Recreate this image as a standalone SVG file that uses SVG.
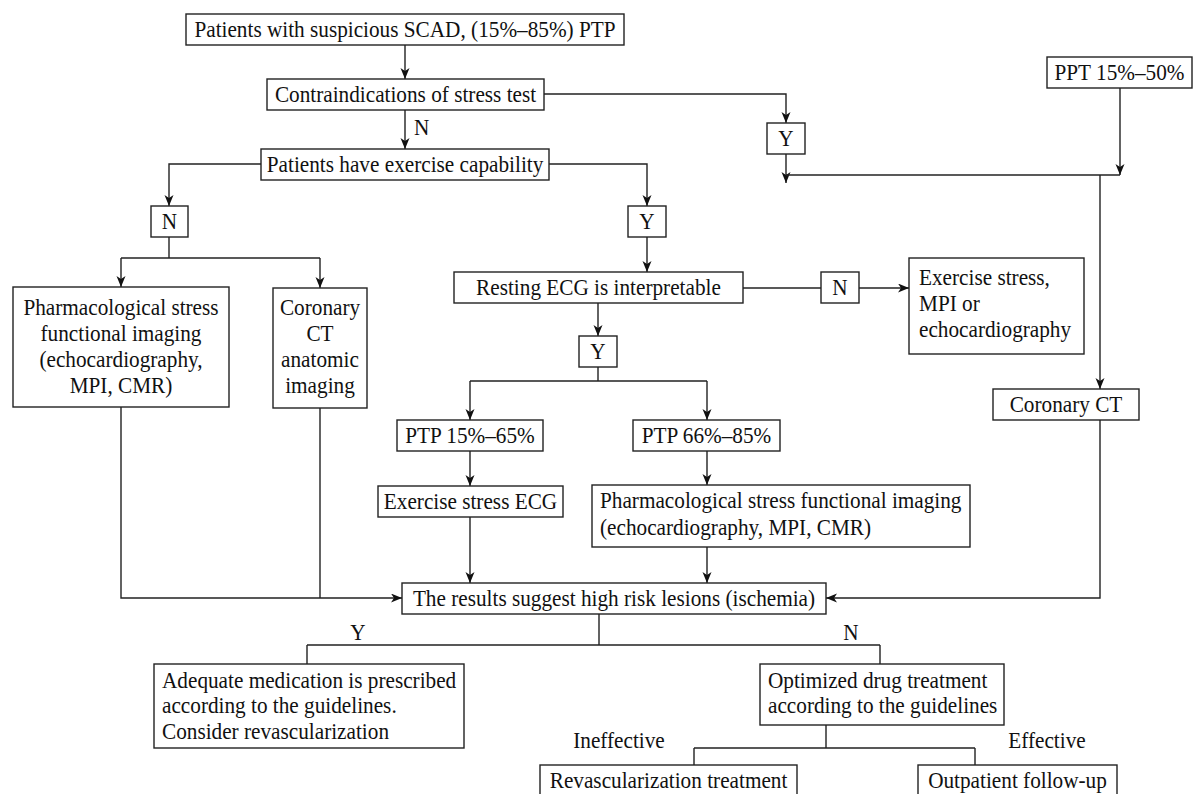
<svg xmlns="http://www.w3.org/2000/svg" width="1193" height="794" viewBox="0 0 1193 794">
<style>
.b{fill:#fff;stroke:#222;stroke-width:1.4}
.t{font-family:"Liberation Serif","Times New Roman",serif;font-size:24px;fill:#111;transform-box:fill-box;transform:scaleX(0.885);transform-origin:left}
.c{text-anchor:middle;transform-origin:center}
.l{fill:none;stroke:#222;stroke-width:1.4}
.a{fill:none;stroke:#222;stroke-width:1.4;marker-end:url(#ah)}
</style>
<defs>
<marker id="ah" markerUnits="userSpaceOnUse" markerWidth="12" markerHeight="10" refX="11" refY="4.5" orient="auto">
<path d="M0,0 L11,4.5 L0,9 L3,4.5 z" fill="#111"/>
</marker>
</defs>
<rect width="1193" height="794" fill="#fff"/>
<g id="connectors">
<path class="a" d="M405,45 V79"/>
<path class="a" d="M405,110 V149"/>
<path class="a" d="M544,94 H786 V123"/>
<path class="a" d="M261,164 H169 V206"/>
<path class="a" d="M548,164 H647 V206"/>
<path class="a" d="M786,154 V183"/>
<path class="l" d="M786,175 H1120"/>
<path class="a" d="M1120,88 V175"/>
<path class="a" d="M1100,175 V389"/>
<path class="l" d="M169,237 V258"/>
<path class="l" d="M121,258 H320"/>
<path class="a" d="M121,258 V287"/>
<path class="a" d="M320,258 V288"/>
<path class="a" d="M647,237 V272"/>
<path class="l" d="M743,288 H821"/>
<path class="a" d="M859,288 H909"/>
<path class="a" d="M598,303 V336"/>
<path class="l" d="M598,367 V381 M470,381 H707"/>
<path class="a" d="M470,381 V420"/>
<path class="a" d="M707,381 V420"/>
<path class="a" d="M470,451 V486"/>
<path class="a" d="M707,451 V485"/>
<path class="a" d="M470,517 V583"/>
<path class="a" d="M707,547 V583"/>
<path class="a" d="M121,407 V598 H402"/>
<path class="l" d="M320,408 V598"/>
<path class="a" d="M1100,420 V598 H826"/>
<path class="l" d="M599,614 V645 M307,645 H880 M307,645 V664 M880,645 V664"/>
<path class="l" d="M826,725 V748 M694,748 H975 M694,748 V765 M975,748 V765"/>
<text class="t" x="414" y="135">N</text>
<text class="t c" x="358" y="640">Y</text>
<text class="t c" x="851" y="640">N</text>
<text class="t c" x="619" y="748">Ineffective</text>
<text class="t c" x="1047" y="748">Effective</text>
</g>
<g id="n1"><rect class="b" x="186" y="14" width="438" height="31"/><text class="t c" x="405" y="37">Patients with suspicious SCAD, (15%–85%) PTP</text></g>
<g id="n2"><rect class="b" x="267" y="79" width="277" height="31"/><text class="t c" x="405.5" y="102">Contraindications of stress test</text></g>
<g id="n3"><rect class="b" x="261" y="149" width="288" height="31"/><text class="t c" x="405" y="172">Patients have exercise capability</text></g>
<g id="ny1"><rect class="b" x="767" y="123" width="38" height="31"/><text class="t c" x="786" y="146">Y</text></g>
<g id="nppt"><rect class="b" x="1047" y="57" width="145" height="31"/><text class="t c" x="1119.5" y="80">PPT 15%–50%</text></g>
<g id="nn1"><rect class="b" x="151" y="206" width="37" height="31"/><text class="t c" x="169.5" y="229">N</text></g>
<g id="ny2"><rect class="b" x="628" y="206" width="38" height="31"/><text class="t c" x="647" y="229">Y</text></g>
<g id="npharm1"><rect class="b" x="13" y="287" width="216" height="120"/>
<text class="t c" x="121" y="315">Pharmacological stress</text>
<text class="t c" x="121" y="341">functional imaging</text>
<text class="t c" x="121" y="367">(echocardiography,</text>
<text class="t c" x="121" y="393">MPI, CMR)</text></g>
<g id="ncct1"><rect class="b" x="273" y="288" width="94" height="120"/>
<text class="t c" x="320" y="315">Coronary</text>
<text class="t c" x="320" y="341">CT</text>
<text class="t c" x="320" y="367">anatomic</text>
<text class="t c" x="320" y="393">imaging</text></g>
<g id="nrest"><rect class="b" x="454" y="272" width="289" height="31"/><text class="t c" x="598.5" y="295">Resting ECG is interpretable</text></g>
<g id="nn2"><rect class="b" x="821" y="272" width="38" height="31"/><text class="t c" x="840" y="295">N</text></g>
<g id="nexmpi"><rect class="b" x="909" y="258" width="175" height="96"/>
<text class="t" x="919" y="285">Exercise stress,</text>
<text class="t" x="919" y="311">MPI or</text>
<text class="t" x="919" y="337">echocardiography</text></g>
<g id="ny3"><rect class="b" x="579" y="336" width="38" height="31"/><text class="t c" x="598" y="359">Y</text></g>
<g id="nptp1"><rect class="b" x="397" y="420" width="146" height="31"/><text class="t c" x="470" y="443">PTP 15%–65%</text></g>
<g id="nptp2"><rect class="b" x="633" y="420" width="147" height="31"/><text class="t c" x="706.5" y="443">PTP 66%–85%</text></g>
<g id="nexecg"><rect class="b" x="378" y="486" width="185" height="31"/><text class="t c" x="470.5" y="509">Exercise stress ECG</text></g>
<g id="npharm2"><rect class="b" x="592" y="485" width="378" height="62"/>
<text class="t" x="600" y="508">Pharmacological stress functional imaging</text>
<text class="t" x="600" y="535">(echocardiography, MPI, CMR)</text></g>
<g id="ncct2"><rect class="b" x="993" y="389" width="146" height="31"/><text class="t c" x="1066" y="412">Coronary CT</text></g>
<g id="nres"><rect class="b" x="402" y="583" width="424" height="31"/><text class="t c" x="614" y="606">The results suggest high risk lesions (ischemia)</text></g>
<g id="nadeq"><rect class="b" x="154" y="664" width="310" height="84"/>
<text class="t" x="162" y="688">Adequate medication is prescribed</text>
<text class="t" x="162" y="713.5">according to the guidelines.</text>
<text class="t" x="162" y="739">Consider revascularization</text></g>
<g id="nopt"><rect class="b" x="760" y="664" width="244" height="61"/>
<text class="t" x="768" y="688">Optimized drug treatment</text>
<text class="t" x="768" y="713">according to the guidelines</text></g>
<g id="nrevasc"><rect class="b" x="540" y="765" width="257" height="40"/><text class="t c" x="668.5" y="788">Revascularization treatment</text></g>
<g id="nout"><rect class="b" x="918" y="765" width="199" height="40"/><text class="t c" x="1017.5" y="788">Outpatient follow-up</text></g>
</svg>
